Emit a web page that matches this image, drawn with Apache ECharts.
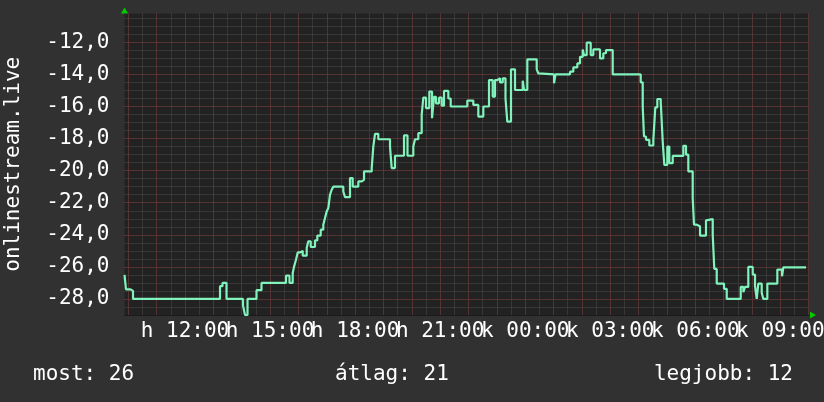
<!DOCTYPE html>
<html>
<head>
<meta charset="utf-8">
<script src="https://cdn.jsdelivr.net/npm/echarts@6/dist/echarts.min.js"></script>
<style>
html,body{margin:0;padding:0;background:#313131;}
#chart{width:824px;height:402px;}
</style>
</head>
<body>
<div id="chart"></div>
<script>
// time in hours (day 1 clock; >24 = next day)
const times = [
  9.866, 9.919, 10.078, 10.166, 13.235, 13.323, 13.464, 14.046, 14.116, 14.205,
  14.522, 14.698, 15.563, 15.686, 15.799, 15.845, 15.915, 15.975, 16.056, 16.152,
  16.293, 16.349, 16.434, 16.585, 16.667, 16.787, 16.878, 16.938, 16.998, 17.055,
  17.115, 17.175, 17.231, 17.584, 17.644, 17.820, 17.915, 18.113, 18.233, 18.314,
  18.586, 18.642, 18.702, 18.818, 19.231, 19.291, 19.407, 19.725, 19.848, 20.053,
  20.113, 20.229, 20.349, 20.406, 20.501, 20.617, 20.713, 20.783, 20.854, 20.959,
  21.055, 21.136, 21.288, 21.372, 21.958, 22.169, 22.346, 22.522, 22.723, 22.853,
  22.934, 23.016, 23.111, 23.206, 23.305, 23.368, 23.499, 23.640, 23.912, 23.958,
  24.074, 24.406, 24.462, 24.522, 25.016, 25.069, 25.580, 25.697, 25.838, 25.933,
  26.028, 26.074, 26.169, 26.310, 26.402, 26.638, 26.755, 26.850, 27.086, 28.074,
  28.145, 28.190, 28.261, 28.377, 28.519, 28.589, 28.660, 28.780, 28.850, 28.907,
  29.012, 29.083, 29.203, 29.577, 29.672, 29.753, 29.908, 29.954, 30.049, 30.166,
  30.377, 30.423, 30.614, 30.670, 30.755, 31.012, 31.108, 31.602, 31.694, 31.753,
  31.869, 32.025, 32.106, 32.166, 32.222, 32.342, 32.399, 32.540, 32.893, 33.059,
  33.104, 33.905
];
const values = [
  -26.5, -27.4, -27.5, -28.0, -27.2, -27.0, -28.0, -28.4, -29.0, -28.0,
  -27.45, -27.0, -26.55, -27.0, -26.4, -26.0, -25.55, -25.1, -25.0, -25.3,
  -24.8, -24.4, -24.76, -24.35, -24.05, -23.68, -23.37, -22.95, -22.54, -22.33,
  -21.5, -21.19, -21.0, -21.3, -21.65, -20.46, -21.0, -20.67, -20.57, -20.05,
  -19.84, -18.5, -17.7, -18.04, -18.5, -19.84, -19.07, -17.8, -19.07, -18.5,
  -18.04, -17.66, -16.5, -15.45, -16.1, -15.07, -16.73, -15.4, -15.8, -15.45,
  -15.95, -15.03, -15.5, -16.0, -15.63, -15.9, -16.63, -16.0, -14.35, -15.38,
  -14.35, -14.24, -14.5, -14.24, -15.5, -16.94, -13.68, -14.97, -14.39, -14.97,
  -13.06, -13.68, -13.93, -14.0, -14.55, -14.0, -13.83, -13.56, -13.31, -12.9,
  -12.44, -12.8, -12.02, -12.79, -12.44, -13.0, -12.68, -12.48, -14.0, -14.49,
  -16.0, -17.87, -18.08, -18.43, -18.08, -16.05, -15.53, -15.7, -18.18, -19.64,
  -18.5, -19.53, -19.08, -18.45, -19.0, -20.05, -21.7, -23.37, -23.47, -24.05,
  -23.1, -23.02, -24.0, -26.13, -27.04, -27.37, -28.0, -27.25, -27.58, -27.25,
  -26.0, -26.48, -27.2, -28.0, -27.04, -27.62, -28.0, -27.04, -26.17, -26.59,
  -26.03, -26.03
];
const xLabelHours = [12, 15, 18, 21, 24, 27, 30, 33];
const xLabelTexts = ['h 12:00', 'h 15:00', 'h 18:00', 'h 21:00', 'k 00:00', 'k 03:00', 'k 06:00', 'k 09:00'];
const yAxisTitle = 'onlinestream.live';
const summaryNames = ['most', 'átlag', 'legjobb'];
const summaryValues = [26, 21, 12];

const X_MIN = 9.866, X_MAX = 34.01;
const Y_MIN = -29, Y_MAX = -10.2;
const FONT = '"DejaVu Sans Mono", monospace';
const FS = 21;
const GRAY = '#4c4c4c', RED = '#763030', GREEN = '#00cc00';

const chart = echarts.init(document.getElementById('chart'), null, {renderer: 'canvas'});
const hidden = {show: false};
chart.setOption({
  animation: false,
  backgroundColor: '#313131',
  grid: {left: 124.5, right: 15, top: 13.5, bottom: 87, show: true, backgroundColor: '#222222', borderWidth: 0, containLabel: false, outerBoundsMode: 'none'},
  xAxis: [
    {
      type: 'value', min: X_MIN, max: X_MAX, minInterval: 0.5, maxInterval: 0.5, position: 'bottom', z: 0,
      axisLine: {show: true, lineStyle: {color: '#1a1a1a', width: 1}},
      axisTick: hidden, axisLabel: hidden,
      splitLine: {show: true, showMinLine: false, showMaxLine: false, lineStyle: {color: GRAY, width: 1, type: [1, 1]}}
    },
    {
      type: 'value', min: X_MIN, max: X_MAX, minInterval: 1, maxInterval: 1, position: 'bottom', z: 1,
      axisLine: {show: true, symbol: ['none', 'triangle'], symbolSize: [7, 6], symbolOffset: [0, 4], lineStyle: {color: GREEN, opacity: 0}},
      axisTick: hidden,
      axisLabel: {
        show: true, showMinLabel: false, showMaxLabel: false, hideOverlap: false, margin: 6,
        color: '#ffffff', fontFamily: FONT, fontSize: FS,
        formatter: function (v) {
          const i = xLabelHours.findIndex(h => Math.abs(h - v) < 1e-6);
          return i >= 0 ? xLabelTexts[i] : '';
        }
      },
      splitLine: {show: true, showMinLine: false, showMaxLine: false, lineStyle: {color: RED, width: 1, type: [1, 1]}}
    }
  ],
  yAxis: [
    {
      type: 'value', min: Y_MIN, max: Y_MAX, minInterval: 0.5, maxInterval: 0.5, position: 'left', z: 0,
      axisLine: hidden, axisTick: hidden, axisLabel: hidden,
      splitLine: {show: true, showMinLine: false, showMaxLine: false, lineStyle: {color: GRAY, width: 1, type: [1, 1]}}
    },
    {
      type: 'value', min: Y_MIN, max: Y_MAX, minInterval: 2, maxInterval: 2, position: 'left', z: 1,
      name: yAxisTitle, nameLocation: 'middle', nameGap: 100, nameRotate: 90,
      nameTextStyle: {color: '#ffffff', fontFamily: FONT, fontSize: FS},
      axisLine: {show: true, symbol: ['none', 'triangle'], symbolSize: [7, 6], symbolOffset: [0, 3], lineStyle: {color: GREEN, opacity: 0}},
      axisTick: hidden,
      axisLabel: {
        show: true, showMinLabel: false, showMaxLabel: false, margin: 15,
        color: '#ffffff', fontFamily: FONT, fontSize: FS,
        formatter: function (v) { return v.toFixed(1).replace('.', ','); }
      },
      splitLine: {show: true, showMinLine: false, showMaxLine: false, lineStyle: {color: RED, width: 1, type: [1, 1]}}
    }
  ],
  graphic: [
    {type: 'text', left: 33, top: 364, style: {text: summaryNames[0] + ': ' + summaryValues[0], fill: '#ffffff', font: FS + 'px ' + FONT}},
    {type: 'text', left: 335, top: 364, style: {text: summaryNames[1] + ': ' + summaryValues[1], fill: '#ffffff', font: FS + 'px ' + FONT}},
    {type: 'text', right: 31, top: 364, style: {text: summaryNames[2] + ': ' + summaryValues[2], fill: '#ffffff', font: FS + 'px ' + FONT}}
  ],
  series: [{
    type: 'line', xAxisIndex: 1, yAxisIndex: 1, step: 'end', symbol: 'none', z: 5,
    lineStyle: {color: '#80f2bb', width: 2.2},
    data: times.map((t, i) => [t, values[i]])
  }]
});
</script>
</body>
</html>
